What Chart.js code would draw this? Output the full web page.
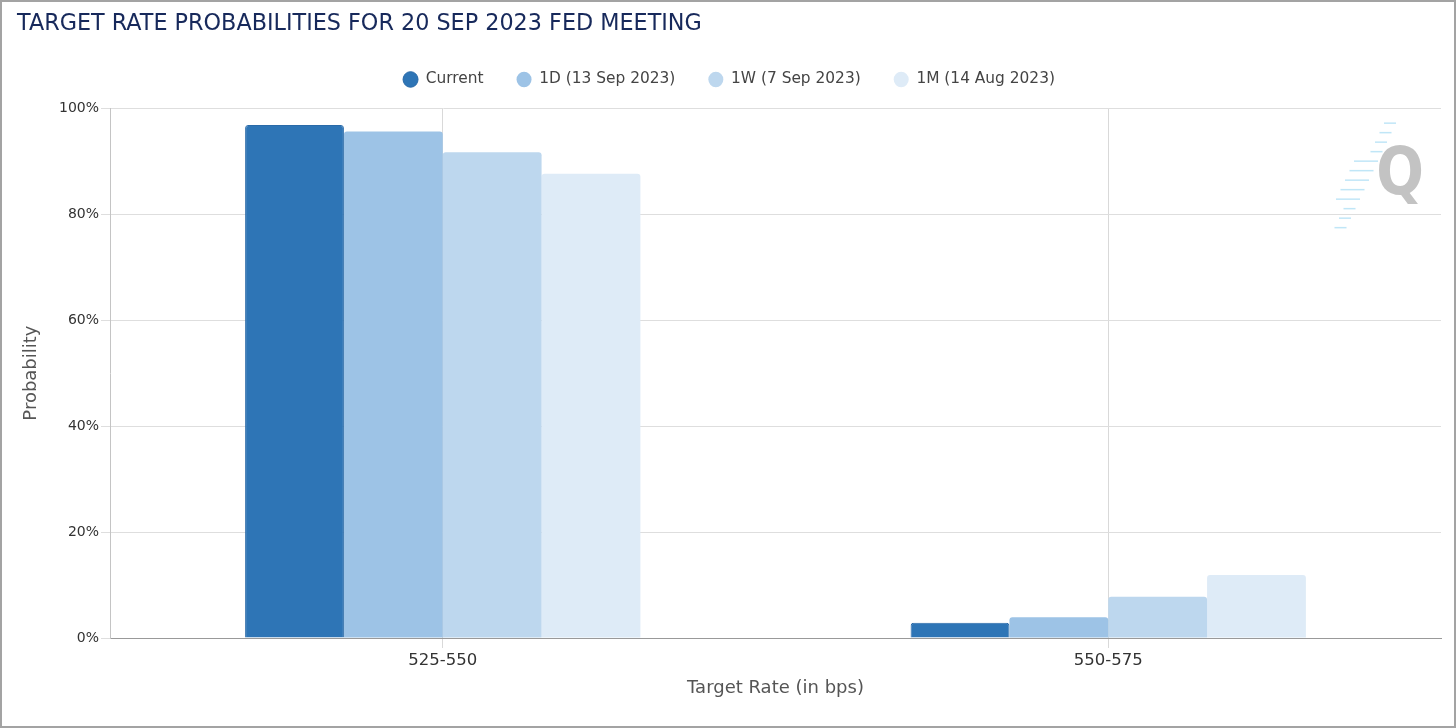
<!DOCTYPE html>
<html>
<head>
<meta charset="utf-8">
<script src="https://cdn.jsdelivr.net/npm/chart.js@4/dist/chart.umd.min.js"></script>
<style>
  html, body { margin: 0; padding: 0; background: #fff; }
  .frame {
    width: 1456px; height: 728px; box-sizing: border-box;
    border: 2px solid #a3a3a3; background: #fff;
  }
  .frame canvas { display: block; }
</style>
</head>
<body>
<div class="frame">
  <canvas id="probChart" width="1452" height="724"></canvas>
</div>
<script>
// target rate buckets (bps)
const rateBuckets = ['525-550', '550-575'];

// probabilities in % per snapshot
const currentProb = [96.8, 2.9];
const oneDayProb = [95.6, 3.9];
const oneWeekProb = [91.7, 7.8];
const oneMonthProb = [87.6, 11.9];

const seriesNames = ['Current', '1D (13 Sep 2023)', '1W (7 Sep 2023)', '1M (14 Aug 2023)'];
const seriesColors = ['#2e75b6', '#9dc3e6', '#bdd7ee', '#deebf7'];

const yTicks = [0, 20, 40, 60, 80, 100];

const FONT = "'DejaVu Sans', sans-serif";

// the little "Q" logo in the corner
const watermark = {
    id: 'watermark',
    beforeDatasetsDraw: function(chart) {
        const ctx = chart.ctx;
        const area = chart.chartArea;
        const cx = area.right - 41;
        const cy = area.top + 69;
        ctx.save();
        ctx.strokeStyle = 'rgba(130, 205, 240, 0.5)';
        ctx.lineWidth = 1.5;
        for (let i = 0; i < 12; i++) {
            const y = cy - 54 + i * 9.5;
            const x = cx - 4 - i * 4.5;
            const len = (i > 3 && i < 9) ? 24 : 12;
            ctx.beginPath();
            ctx.moveTo(x - len, y);
            ctx.lineTo(x, y);
            ctx.stroke();
        }
        ctx.translate(cx, cy);
        ctx.scale(0.85, 1);
        ctx.fillStyle = 'rgba(175, 175, 175, 0.75)';
        ctx.font = 'bold 66px ' + FONT;
        ctx.textAlign = 'center';
        ctx.textBaseline = 'middle';
        ctx.fillText('Q', 0, 0);
        ctx.restore();
    }
};

// push the legend row up a bit, keeping the plot where it is
const legendNudge = {
    id: 'legendNudge',
    afterLayout: function(chart) {
        if (chart.legend) {
            chart.legend.top -= 11;
            chart.legend.bottom -= 11;
        }
    }
};

const datasetValues = [currentProb, oneDayProb, oneWeekProb, oneMonthProb];

const ctx = document.getElementById('probChart').getContext('2d');
const chart = new Chart(ctx, {
    type: 'bar',
    data: {
        labels: rateBuckets,
        datasets: datasetValues.map((vals, i) => ({
            label: seriesNames[i],
            data: vals,
            backgroundColor: seriesColors[i],
            borderColor: i === 0 ? '#2a6aa8' : seriesColors[i],
            borderWidth: i === 0 ? 1 : 0,
            borderSkipped: 'bottom',
            borderRadius: { topLeft: 3, topRight: 3 },
            barPercentage: 1.0,
            categoryPercentage: 0.594
        }))
    },
    options: {
        responsive: false,
        animation: false,
        layout: { padding: { left: 15, right: 13, top: 0, bottom: 0 } },
        plugins: {
            title: {
                display: true,
                text: 'TARGET RATE PROBABILITIES FOR 20 SEP 2023 FED MEETING',
                align: 'start',
                color: '#17295b',
                font: { family: FONT, size: 22.3, weight: 'normal' },
                padding: { top: 9, bottom: 12 }
            },
            legend: {
                display: true,
                labels: {
                    usePointStyle: true,
                    pointStyle: 'circle',
                    boxHeight: 11,
                    pointStyleWidth: 15,
                    padding: 33,
                    color: '#444',
                    font: { family: FONT, size: 15.4 }
                }
            },
            tooltip: { enabled: false }
        },
        scales: {
            x: {
                afterFit: function(scale) { scale.height = 88; },
                grid: {
                    offset: false,
                    color: '#d9d9d9',
                    drawTicks: true,
                    tickLength: 10
                },
                border: { display: true, color: '#999' },
                ticks: { color: '#333', padding: 3, font: { family: FONT, size: 16.5 } },
                title: {
                    display: true,
                    text: 'Target Rate (in bps)',
                    color: '#555',
                    font: { family: FONT, size: 18 },
                    padding: { top: 0, bottom: 27 }
                }
            },
            y: {
                min: 0,
                max: 100,
                afterFit: function(scale) { scale.width = 93; },
                afterBuildTicks: function(scale) {
                    scale.ticks = yTicks.map(v => ({ value: v }));
                },
                grid: { color: '#dedede', drawTicks: true, tickLength: 9 },
                border: { display: true, color: '#c4c4c4' },
                ticks: {
                    color: '#333',
                    padding: 2,
                    font: { family: FONT, size: 14 },
                    callback: function(v) { return v + '%'; }
                },
                title: {
                    display: true,
                    text: 'Probability',
                    color: '#555',
                    font: { family: FONT, size: 18 },
                    padding: { top: 4, bottom: 0 }
                }
            }
        }
    },
    plugins: [watermark, legendNudge]
});
</script>
</body>
</html>
